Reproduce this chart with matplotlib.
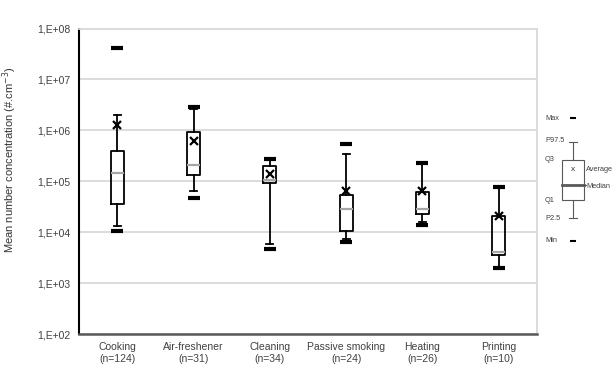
import matplotlib.pyplot as plt
from matplotlib.lines import Line2D
from matplotlib.patches import Rectangle

plt.rcParams['font.family'] = ['Liberation Sans', 'DejaVu Sans']

# values (particles per cm3)
categories = ["Cooking\n(n=124)", "Air-freshener\n(n=31)", "Cleaning\n(n=34)",
              "Passive smoking\n(n=24)", "Heating\n(n=26)", "Printing\n(n=10)"]
v_min = [1.05e4, 4.6e4, 4.6e3, 6.3e3, 1.4e4, 2.0e3]
p2_5 = [1.3e4, 6.5e4, 5.9e3, 7.4e3, 1.55e4, 2.0e3]
q1 = [3.5e4, 1.3e5, 9.1e4, 1.05e4, 2.25e4, 3.5e3]
median = [1.48e5, 2.1e5, 1.07e5, 2.9e4, 2.85e4, 4.1e3]
q3 = [4.0e5, 9.2e5, 2.0e5, 5.3e4, 6.2e4, 2.1e4]
p97_5 = [2.0e6, 2.6e6, 2.6e5, 3.5e5, 2.2e5, 7.7e4]
v_max = [4.1e7, 2.85e6, 2.7e5, 5.5e5, 2.3e5, 7.7e4]
average = [1.26e6, 6.3e5, 1.4e5, 6.4e4, 6.4e4, 2.1e4]

stats = []
for i in range(len(categories)):
    stats.append(dict(med=median[i], q1=q1[i], q3=q3[i], whislo=p2_5[i],
                      whishi=p97_5[i], mean=average[i],
                      fliers=[v_min[i], v_max[i]]))

fig = plt.figure(figsize=(6.16, 3.73), dpi=100)
ax = fig.add_axes([79 / 616, 1 - 334 / 373, 458 / 616, 305.5 / 373])

ax.bxp(stats, positions=range(1, 7), widths=0.17, capwidths=0.09,
       showmeans=True, showfliers=True, patch_artist=False,
       boxprops=dict(color="black", lw=1.3),
       whiskerprops=dict(color="black", lw=1.3),
       capprops=dict(color="black", lw=1.3),
       medianprops=dict(color="#a6a6a6", lw=1.6),
       meanprops=dict(marker="x", markersize=6, markeredgecolor="black",
                      markeredgewidth=1.6),
       flierprops=dict(marker="_", markersize=8, markeredgecolor="black",
                       markeredgewidth=3))

ax.set_yscale("log")
ax.set_ylim(1e2, 1e8)
ax.set_xlim(0.5, 6.5)
yt = [1e2, 1e3, 1e4, 1e5, 1e6, 1e7, 1e8]
ax.set_yticks(yt)
ax.set_yticklabels(["1,E+%02d" % k for k in range(2, 9)])
ax.minorticks_off()
ax.set_xticks(range(1, 7))
ax.set_xticklabels(categories)
ax.tick_params(length=0, labelsize=7.5, labelcolor="#404040")
ax.tick_params(axis="y", pad=6)
ax.tick_params(axis="x", pad=6)
ax.yaxis.grid(True, color="#d9d9d9", lw=1.3)
ax.set_axisbelow(True)
for s in ["top", "right"]:
    ax.spines[s].set_color("#d9d9d9")
    ax.spines[s].set_linewidth(1.3)
ax.spines["left"].set_color("black")
ax.spines["left"].set_linewidth(1.5)
ax.spines["bottom"].set_color("#595959")
ax.spines["bottom"].set_linewidth(1.8)
ax.set_ylabel("Mean number concentration (#.cm$^{-3}$)", fontsize=8,
              color="#333333")
ax.yaxis.set_label_coords(-0.131, 0.57)


# legend schematic on the right, pixel layout converted to figure fraction
def px(x, y):
    return x / 616, 1 - y / 373


lbl = dict(fontsize=5.3, color="#404040", va="center", ha="left")
for name, y in [("Max", 118), ("P97.5", 141), ("Q3", 159), ("Q1", 201),
                ("P2.5", 219), ("Min", 241)]:
    fig.text(*px(545, y), name, **lbl)
fig.text(*px(586, 169), "Average", **lbl)
fig.text(*px(586, 186), "Median", **lbl)

tr = fig.transFigure
x0, y0 = px(562, 200)
x1, y1 = px(584, 160)
fig.add_artist(Rectangle((x0, y0), x1 - x0, y1 - y0, transform=tr,
                         fill=False, ec="#595959", lw=0.8))
for (xa, ya), (xb, yb), c, w in [
        (px(573, 142), px(573, 160), "#595959", 0.8),
        (px(573, 200), px(573, 218), "#595959", 0.8),
        (px(569, 142), px(577, 142), "#595959", 0.8),
        (px(569, 218), px(577, 218), "#595959", 0.8),
        (px(562, 185), px(584, 185), "#595959", 2.0),
        (px(584, 185), px(586, 185), "#595959", 0.8)]:
    fig.add_artist(Line2D([xa, xb], [ya, yb], transform=tr, color=c, lw=w))
for y in (118, 241):
    xa, ya = px(573, y)
    fig.add_artist(Line2D([xa], [ya], transform=tr, marker="_", ms=4,
                          mew=1.5, color="black"))
xa, ya = px(573, 169)
fig.text(xa, ya, "x", fontsize=6, ha="center", va="center", color="#333333")

fig.savefig("out.png", dpi=100)
